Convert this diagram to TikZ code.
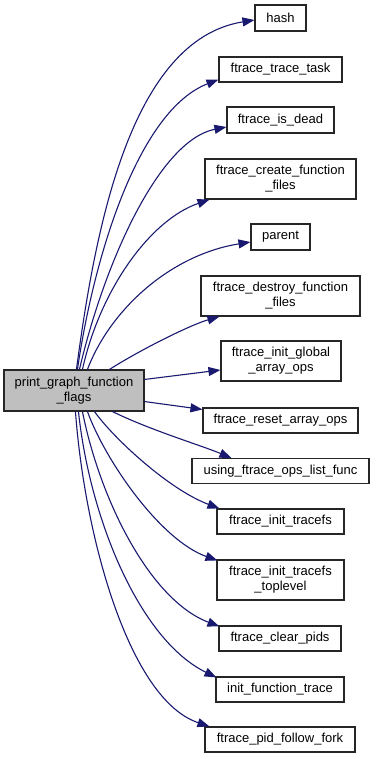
\documentclass[tikz,border=0pt]{standalone}
\usepackage{fontspec}
\setmainfont{Liberation Sans}
\usetikzlibrary{arrows.meta}
\definecolor{edgeblue}{HTML}{191970}
\definecolor{mainfill}{HTML}{BFBFBF}
\tikzset{
  fn/.style={draw=black!85, line width=1.1pt, fill=white, rectangle, inner sep=0pt,
    align=center, font=\fontsize{13}{15}\selectfont},
  mainfn/.style={fn, fill=mainfill},
  call/.style={draw=edgeblue, line width=1.1pt,
    -{Triangle[length=12pt,width=9pt,fill=edgeblue]}},
}
\begin{document}
\begin{tikzpicture}[x=1pt,y=-1pt]
\useasboundingbox (0,0) rectangle (375,759);

% caller
\node[mainfn, minimum width=140pt, minimum height=41pt] (main) at (74,390.5)
  {print\_graph\_function\\\_flags};

% callees
\node[fn, minimum width=51pt,  minimum height=26pt] (hash)     at (280.5,18)    {hash};
\node[fn, minimum width=123pt, minimum height=25pt] (trace)    at (280.5,69.5)  {ftrace\_trace\_task};
\node[fn, minimum width=107pt, minimum height=26pt] (isdead)   at (280.5,120)   {ftrace\_is\_dead};
\node[fn, minimum width=151pt, minimum height=40pt] (create)   at (280.5,179)   {ftrace\_create\_function\\\_files};
\node[fn, minimum width=59pt,  minimum height=26pt] (parent)   at (280.5,237)   {parent};
\node[fn, minimum width=159pt, minimum height=40pt] (destroy)  at (280.5,296)   {ftrace\_destroy\_function\\\_files};
\node[fn, minimum width=120pt, minimum height=40pt] (global)   at (281,361)     {ftrace\_init\_global\\\_array\_ops};
\node[fn, minimum width=155pt, minimum height=25pt] (reset)    at (280.5,420.5) {ftrace\_reset\_array\_ops};
\node[fn, minimum width=177pt, minimum height=25pt] (using)    at (280.5,471)   {using\_ftrace\_ops\_list\_func};
\node[fn, minimum width=127pt, minimum height=25pt] (tracefs)  at (280.5,521.5) {ftrace\_init\_tracefs};
\node[fn, minimum width=127pt, minimum height=40pt] (toplevel) at (280.5,580)   {ftrace\_init\_tracefs\\\_toplevel};
\node[fn, minimum width=122pt, minimum height=25pt] (clear)    at (280,638.5)   {ftrace\_clear\_pids};
\node[fn, minimum width=128pt, minimum height=25pt] (ift)      at (280,689.5)   {init\_function\_trace};
\node[fn, minimum width=150pt, minimum height=25pt] (fork)     at (280,739.5)   {ftrace\_pid\_follow\_fork};

% calls leaving the top of the caller
\draw[call] ([xshift=73pt]main.north west) .. controls (95,230) and (130,40) .. ([yshift=-2pt]hash.west);
\draw[call] ([xshift=74pt]main.north west) .. controls (95,250) and (140,110) .. ([yshift=3pt]trace.south west);
\draw[call] ([xshift=76pt]main.north west) .. controls (105,260) and (160,140) .. ([yshift=-7pt]isdead.west);
\draw[call] ([xshift=79pt]main.north west) .. controls (100,290) and (150,220) .. ([xshift=5pt]create.south west);
\draw[call] ([xshift=84pt]main.north west) .. controls (110,310) and (170,255) .. ([yshift=-5pt]parent.west);
\draw[call] ([xshift=106pt]main.north west) .. controls (140,350) and (190,325) .. ([xshift=19pt]destroy.south west);

% calls leaving the right side
\draw[call] ([yshift=-10pt]main.north east) -- ([yshift=-9pt]global.west);
\draw[call] ([yshift=10pt]main.south east) -- ([yshift=-2pt]reset.north west);

% calls leaving the bottom
\draw[call] ([xshift=109pt]main.south west) .. controls (150,430) and (200,445) .. ([xshift=40pt]using.north west);
\draw[call] ([xshift=91pt]main.south west) .. controls (115,440) and (170,490) .. ([xshift=3pt]tracefs.north west);
\draw[call] ([xshift=84pt]main.south west) .. controls (105,460) and (160,540) .. ([xshift=1pt,yshift=-1pt]toplevel.north west);
\draw[call] ([xshift=79pt]main.south west) .. controls (100,500) and (150,600) .. ([xshift=1pt,yshift=-1pt]clear.north west);
\draw[call] ([xshift=75pt]main.south west) .. controls (90,520) and (140,640) .. ([xshift=1pt,yshift=-1pt]ift.north west);
\draw[call] ([xshift=72pt]main.south west) .. controls (85,540) and (130,700) .. ([xshift=5pt]fork.north west);
\end{tikzpicture}
\end{document}
